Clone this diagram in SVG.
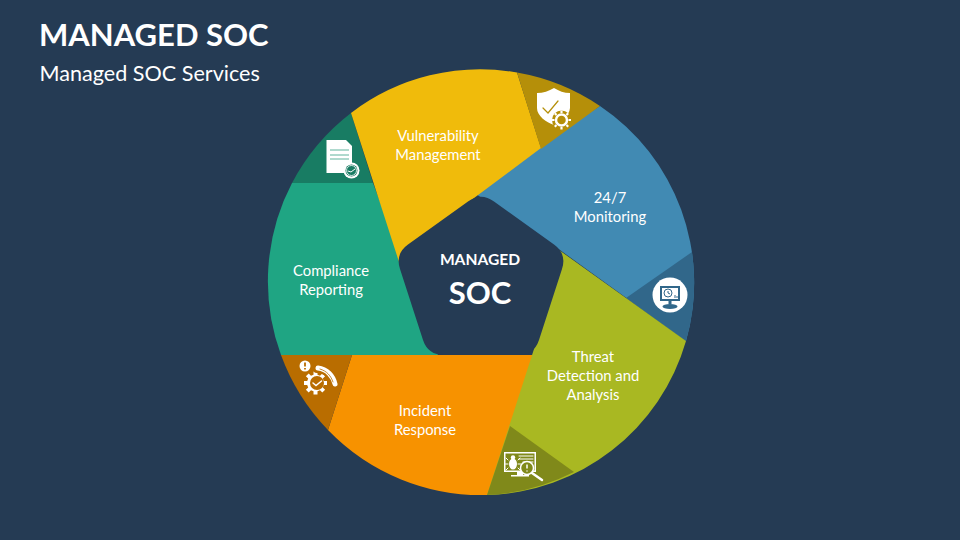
<svg xmlns="http://www.w3.org/2000/svg" width="960" height="540" viewBox="0 0 960 540">
<style>
text{font-family:"Lato","Open Sans","Liberation Sans",sans-serif;fill:#fff;text-anchor:middle}
.lb{font-size:14.800px}
.w{fill:#fff;stroke:none}
.ln{fill:none;stroke-linecap:round}
</style>
<rect width="960" height="540" fill="#253B54"/>
<text x="39" y="46" font-size="31" font-weight="700" style="text-anchor:start">MANAGED SOC</text>
<text x="39.500" y="80.500" font-size="21.600" style="text-anchor:start">Managed SOC Services</text>
<g id="connectors"/>
<g id="node-monitoring">
<path d="M600 106A213 213 0 0 1 686 341L560 250L470 190Z" fill="#418AB3"/>
<path d="M692 252A213 213 0 0 1 686 341L626 298Z" fill="#31678A"/>
<circle cx="670" cy="295" r="17.500" fill="#fff"/>
<rect x="660" y="286" width="20" height="15" fill="#31678A"/><rect x="662" y="288" width="16" height="11" fill="#fff"/>
<circle cx="668" cy="293" r="4" fill="none" stroke="#31678A"/>
<path d="M668 291V293L670 294M675 298V295M677 298V296" fill="none" stroke="#31678A"/>
<rect x="668.500" y="301" width="3" height="3" fill="#31678A"/><ellipse cx="670" cy="306.500" rx="7.500" ry="2.500" fill="#31678A"/>
<text class="lb" x="610" y="203">24/7</text><text class="lb" x="610" y="222">Monitoring</text>
</g>
<g id="node-incident">
<path d="M281 355H545L488 495A213 213 0 0 1 328 430L352 355Z" fill="#F79200"/>
<path d="M281 355H352L328 430A213 213 0 0 1 281 355Z" fill="#B96D00"/>
<path d="M317 383m-13 -2v4h3.200l1 2.500-2.300 2.300 2.800 2.800 2.300-2.300 2.500 1v3.200h4v-3.200l2.500-1 2.300 2.300 2.800-2.800-2.300-2.300 1-2.500h3.200v-4h-3.200l-1-2.500 2.300-2.300-2.800-2.800-2.300 2.300-2.500-1v-3.200h-4v3.200l-2.500 1-2.300-2.300-2.800 2.800 2.300 2.300-1 2.500Z" class="w"/>
<circle cx="317" cy="383" r="7" fill="#B96D00"/>
<path d="M313 383L316 385.500L321.500 381" class="ln" stroke="#fff" stroke-width="1.500"/>
<circle cx="305" cy="366" r="5.500" class="w"/><path d="M305 362.500V366.500M305 368V369.500" stroke="#B96D00" stroke-width="1.800"/>
<path d="M317 369C326 369 333 376 335 385" class="ln" stroke="#B96D00" stroke-width="8"/>
<path d="M318 368C327 369 333 376 335 384" class="ln" stroke="#fff" stroke-width="5"/>
<path d="M320 369C327 371 331 376 333 382" class="ln" stroke="#B96D00" stroke-width=".8"/>
<text class="lb" x="425" y="416">Incident</text><text class="lb" x="425" y="435">Response</text>
</g>
<g id="node-threat">
<path d="M686 341A213 213 0 0 1 487 495L562 262L559 250Z" fill="#A9B822"/>
<path d="M510 426L574 472A213 213 0 0 1 487 495Z" fill="#80891A"/>
<path class="w" d="M504 452H536V472H523V475H529V476.500H511V475H517V472H504ZM505.500 453.500V470.500H534.500V453.500Z"/>
<path d="M519 456H533M519 459H533M523 462H533" stroke="#fff" class="ln"/>
<ellipse cx="513" cy="464" rx="4" ry="5.500" class="w"/><circle cx="513" cy="457.500" r="2.200" class="w"/>
<path d="M508 460L506 458M518 460L520 458M508 464H505.500M518 464H520.500M508 468L506 470M518 468L520 470" stroke="#fff" class="ln"/>
<circle cx="527" cy="468" r="6.500" fill="#80891A" stroke="#fff" stroke-width="1.500"/>
<path d="M527 464.500V468.500M527 470.500V471.500" stroke="#fff" stroke-width="1.500"/>
<path d="M532 473L542 480" stroke="#fff" stroke-width="2.500" class="ln"/>
<text class="lb" x="593" y="362">Threat</text><text class="lb" x="593" y="381">Detection and</text><text class="lb" x="593" y="400">Analysis</text>
</g>
<g id="node-compliance">
<path d="M292 183H373L438 355H281A213 213 0 0 1 292 183Z" fill="#1FA583"/>
<path d="M351 113L373 183H292A213 213 0 0 1 351 113Z" fill="#187C63"/>
<path class="w" d="M326.500 140H346L352 146V173H326.500Z"/>
<path d="M330 150H349M330 155H349M330 159H349" stroke="#5FB39C"/>
<circle cx="351.500" cy="170.500" r="8" class="w" stroke="#187C63"/><circle cx="351.500" cy="170.500" r="6" fill="#187C63" stroke="none"/><circle cx="351.500" cy="170.500" r="5" fill="none" stroke="#fff" stroke-width=".8"/>
<path d="M348 171L351 172L355 169" class="ln" stroke="#fff"/>
<text class="lb" x="331" y="276">Compliance</text><text class="lb" x="331" y="295">Reporting</text>
</g>
<g id="node-vulnerability">
<path d="M351 113A213 213 0 0 1 517 72.500L541 148L470 201L400 265Z" fill="#F0BB0B"/>
<path d="M517 72.500A213 213 0 0 1 600 106L541 149Z" fill="#B58F09"/>
<path class="w" d="M554 88C549 91 543 93 537 93V108C537 116 546 122 554 125C562 122 569 116 570 108V93C564 93 559 91 554 88Z"/>
<path d="M543 108L548 113L558 101" stroke="#B58F09" stroke-width="1.200" class="ln"/>
<circle cx="561.500" cy="120" r="9.500" fill="#B58F09"/>
<circle cx="561.500" cy="120" r="5.500" fill="#B58F09" stroke="#fff" stroke-width="2.500"/>
<path d="M561.500 110.500V113M561.500 127V129.500M552 120H554.500M568.500 120H571M554.800 113.300L556.500 115M566.500 125L568.200 126.700M554.800 126.700L556.500 125M566.500 115L568.200 113.300" stroke="#fff" stroke-width="2.200"/>
<text class="lb" x="438" y="141">Vulnerability</text><text class="lb" x="438" y="160">Management</text>
</g>
<g id="node-center">
<path d="M468 201.400Q481 192 494 201.400L554 244.600Q567 254 562 269L539 340Q534 355 518 355H444Q428 355 423 340L400 269Q395 254 408 244.600Z" fill="#253B54"/>
<text x="480" y="265" font-size="15.600" font-weight="700">MANAGED</text>
<text x="480" y="304" font-size="31" font-weight="700">SOC</text>
</g>
</svg>
